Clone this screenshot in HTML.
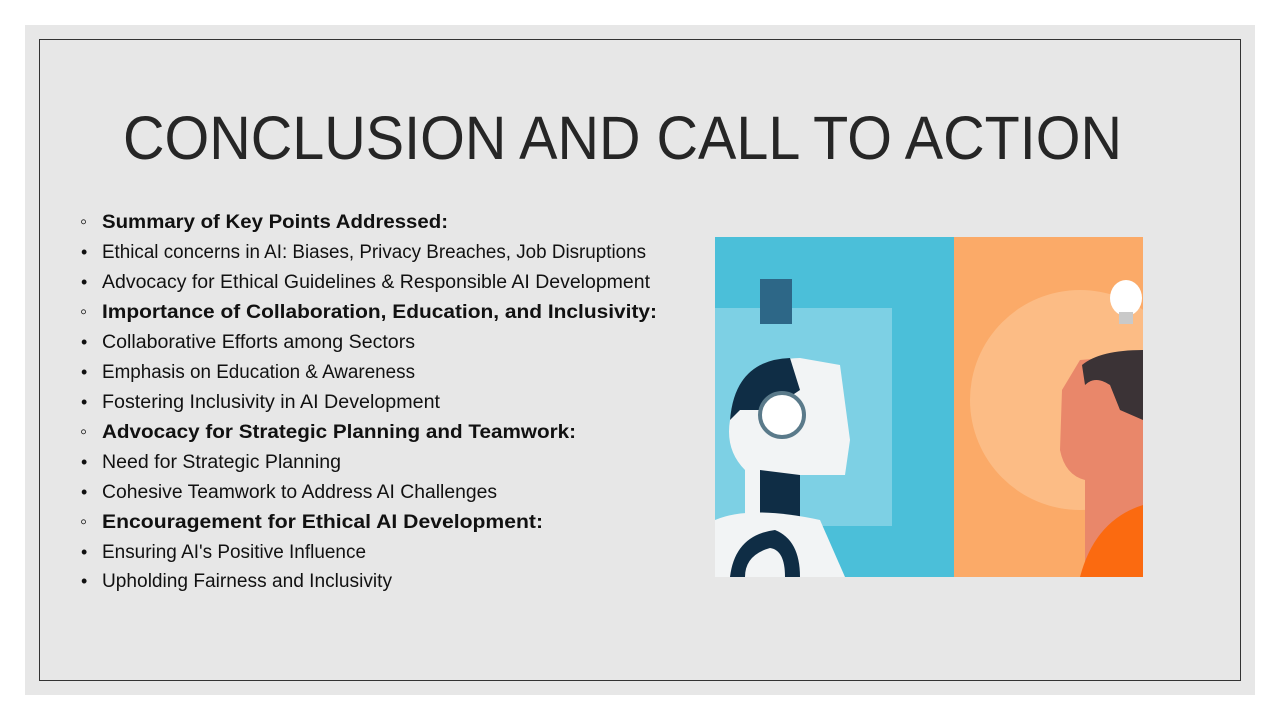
<!DOCTYPE html>
<html><head><meta charset="utf-8"><style>
html,body{margin:0;padding:0;background:#fff;width:1280px;height:720px;overflow:hidden}
svg{display:block}
text{font-family:"Liberation Sans",sans-serif;fill:#111}
</style></head><body>
<svg width="1280" height="720" viewBox="0 0 1280 720">
<defs><clipPath id="imgclip"><rect x="715" y="237" width="428" height="340"/></clipPath></defs>
<rect x="25" y="25" width="1230" height="670" fill="#e7e7e7"/>
<rect x="39.5" y="39.5" width="1201" height="641" fill="none" stroke="#333" stroke-width="1"/>
<text x="123" y="159" font-size="61" textLength="999" lengthAdjust="spacingAndGlyphs" style="fill:#262626">CONCLUSION AND CALL TO ACTION</text>
<g font-size="19">
<text x="80" y="228" font-size="20">◦</text><text x="102" y="228" font-weight="bold" textLength="346" lengthAdjust="spacingAndGlyphs">Summary of Key Points Addressed:</text>
<text x="81" y="258" font-size="18">•</text><text x="102" y="258" textLength="544" lengthAdjust="spacingAndGlyphs">Ethical concerns in AI: Biases, Privacy Breaches, Job Disruptions</text>
<text x="81" y="288" font-size="18">•</text><text x="102" y="288" textLength="548" lengthAdjust="spacingAndGlyphs">Advocacy for Ethical Guidelines &amp; Responsible AI Development</text>
<text x="80" y="318" font-size="20">◦</text><text x="102" y="318" font-weight="bold" textLength="555" lengthAdjust="spacingAndGlyphs">Importance of Collaboration, Education, and Inclusivity:</text>
<text x="81" y="348" font-size="18">•</text><text x="102" y="348" textLength="313" lengthAdjust="spacingAndGlyphs">Collaborative Efforts among Sectors</text>
<text x="81" y="378" font-size="18">•</text><text x="102" y="378" textLength="313" lengthAdjust="spacingAndGlyphs">Emphasis on Education &amp; Awareness</text>
<text x="81" y="408" font-size="18">•</text><text x="102" y="408" textLength="338" lengthAdjust="spacingAndGlyphs">Fostering Inclusivity in AI Development</text>
<text x="80" y="438" font-size="20">◦</text><text x="102" y="438" font-weight="bold" textLength="474" lengthAdjust="spacingAndGlyphs">Advocacy for Strategic Planning and Teamwork:</text>
<text x="81" y="468" font-size="18">•</text><text x="102" y="468" textLength="239" lengthAdjust="spacingAndGlyphs">Need for Strategic Planning</text>
<text x="81" y="498" font-size="18">•</text><text x="102" y="498" textLength="395" lengthAdjust="spacingAndGlyphs">Cohesive Teamwork to Address AI Challenges</text>
<text x="80" y="528" font-size="20">◦</text><text x="102" y="528" font-weight="bold" textLength="441" lengthAdjust="spacingAndGlyphs">Encouragement for Ethical AI Development:</text>
<text x="81" y="558" font-size="18">•</text><text x="102" y="558" textLength="264" lengthAdjust="spacingAndGlyphs">Ensuring AI's Positive Influence</text>
<text x="81" y="587" font-size="18">•</text><text x="102" y="587" textLength="290" lengthAdjust="spacingAndGlyphs">Upholding Fairness and Inclusivity</text>
</g>
<g clip-path="url(#imgclip)">
<rect x="715" y="237" width="239" height="340" fill="#4bbfd9"/>
<rect x="715" y="308" width="177" height="218" fill="#7dd0e4"/>
<rect x="760" y="279" width="32" height="45" fill="#2d6787"/>
<path d="M730 420 Q735 360 800 358 L840 365 L850 440 L845 475 L800 475 L790 520 L745 520 L745 470 Q725 450 730 420Z" fill="#f2f4f5"/>
<path d="M730 420 Q735 360 790 358 L800 390 L770 410 L740 410Z" fill="#0f2d45"/>
<path d="M760 470 L800 475 L800 525 L760 525Z" fill="#0f2d45"/>
<circle cx="782" cy="415" r="22" fill="#fff" stroke="#5a7a8a" stroke-width="4"/>
<path d="M715 577 L715 520 Q750 505 820 520 L845 577Z" fill="#f2f4f5"/>
<path d="M730 577 Q735 535 775 530 Q800 540 800 577 L785 577 Q785 550 770 548 Q745 555 745 577Z" fill="#0f2d45"/>
<rect x="954" y="237" width="189" height="340" fill="#fbaa68"/>
<circle cx="1080" cy="400" r="110" fill="#fcc08c" opacity="0.8"/>
<path d="M1080 360 L1143 355 L1143 577 L1085 577 L1085 480 Q1065 475 1060 450 L1062 390Z" fill="#e9876a"/>
<path d="M1082 365 Q1100 350 1143 350 L1143 420 L1120 410 L1110 385 Q1095 375 1085 385Z" fill="#3b3336"/>
<path d="M1080 577 Q1095 520 1143 505 L1143 577Z" fill="#fb6a10"/>
<ellipse cx="1126" cy="298" rx="16" ry="18" fill="#fff"/>
<rect x="1119" y="312" width="14" height="12" fill="#c9c9c9"/>
</g>
</svg>
</body></html>
